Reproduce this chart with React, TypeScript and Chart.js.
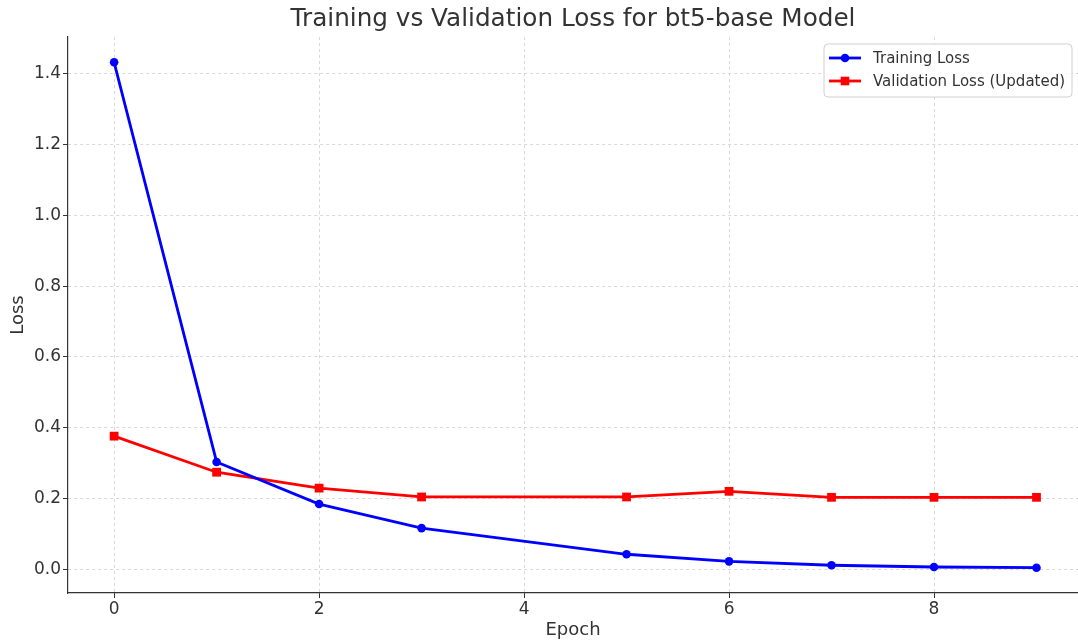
import React, { useEffect, useRef } from "react";
import { Chart, registerables } from "chart.js";

Chart.register(...registerables);

const epochs = [0, 1, 2, 3, 5, 6, 7, 8, 9];
const trainingLoss = [1.433, 0.303, 0.184, 0.116, 0.042, 0.022, 0.011, 0.006, 0.004];
const validationLoss = [0.376, 0.274, 0.229, 0.204, 0.204, 0.22, 0.203, 0.203, 0.203];
const xTickValues = [0, 2, 4, 6, 8];
const yTickValues = [0.0, 0.2, 0.4, 0.6, 0.8, 1.0, 1.2, 1.4];
const titleText = "Training vs Validation Loss for bt5-base Model";
const seriesLabels = ["Training Loss", "Validation Loss (Updated)"];

const FONT = "'DejaVu Sans', sans-serif";
const TEXT = "#333333";

const titlePlugin = {
  id: "customTitle",
  afterDraw(chart: any) {
    const { ctx, chartArea } = chart;
    ctx.save();
    ctx.font = `24.7px ${FONT}`;
    ctx.fillStyle = TEXT;
    ctx.textAlign = "center";
    ctx.textBaseline = "middle";
    ctx.fillText(titleText, (chartArea.left + chartArea.right) / 2, 20);
    ctx.restore();
  },
};

const legendPlugin = {
  id: "customLegend",
  afterDraw(chart: any) {
    const { ctx } = chart;
    const bx = 824, by = 44, bw = 248, bh = 53, r = 4;
    ctx.save();
    ctx.beginPath();
    ctx.moveTo(bx + r, by);
    ctx.lineTo(bx + bw - r, by);
    ctx.quadraticCurveTo(bx + bw, by, bx + bw, by + r);
    ctx.lineTo(bx + bw, by + bh - r);
    ctx.quadraticCurveTo(bx + bw, by + bh, bx + bw - r, by + bh);
    ctx.lineTo(bx + r, by + bh);
    ctx.quadraticCurveTo(bx, by + bh, bx, by + bh - r);
    ctx.lineTo(bx, by + r);
    ctx.quadraticCurveTo(bx, by, bx + r, by);
    ctx.closePath();
    ctx.fillStyle = "rgba(255,255,255,0.85)";
    ctx.fill();
    ctx.strokeStyle = "#d0d0d0";
    ctx.lineWidth = 1;
    ctx.stroke();
    chart.data.datasets.forEach((ds: any, i: number) => {
      const y = 58 + i * 23;
      ctx.strokeStyle = ds.borderColor;
      ctx.lineWidth = 2.8;
      ctx.beginPath();
      ctx.moveTo(829, y);
      ctx.lineTo(861, y);
      ctx.stroke();
      ctx.fillStyle = ds.borderColor;
      if (ds.pointStyle === "rect") {
        ctx.fillRect(845 - 4.3, y - 4.3, 8.6, 8.6);
      } else {
        ctx.beginPath();
        ctx.arc(845, y, 4.3, 0, Math.PI * 2);
        ctx.fill();
      }
      ctx.fillStyle = TEXT;
      ctx.font = `15px ${FONT}`;
      ctx.textAlign = "left";
      ctx.textBaseline = "middle";
      ctx.fillText(ds.label, 873, y + 1);
    });
    ctx.restore();
  },
};

const gridOpts = {
  color: "#cfcfcf",
  lineWidth: 0.8,
  tickColor: "#333333",
  tickLength: 5,
  tickWidth: 1,
  tickBorderDash: [],
};
const borderOpts = { display: true, color: "#333333", width: 1.2, dash: [3, 3] };

export default function App() {
  const ref = useRef<HTMLCanvasElement>(null);
  useEffect(() => {
    if (!ref.current) return;
    const chart = new Chart(ref.current, {
      type: "line",
      data: {
        datasets: [
          {
            label: seriesLabels[0],
            data: epochs.map((e, i) => ({ x: e, y: trainingLoss[i] })),
            borderColor: "#0000ff",
            backgroundColor: "#0000ff",
            borderWidth: 2.8,
            pointStyle: "circle",
            pointRadius: 4.3,
            pointBorderWidth: 0,
            tension: 0,
          },
          {
            label: seriesLabels[1],
            data: epochs.map((e, i) => ({ x: e, y: validationLoss[i] })),
            borderColor: "#ff0000",
            backgroundColor: "#ff0000",
            borderWidth: 2.8,
            pointStyle: "rect",
            pointRadius: 6.2,
            pointBorderWidth: 0,
            tension: 0,
          },
        ],
      },
      options: {
        responsive: false,
        animation: false,
        layout: { autoPadding: false, padding: { top: 37, right: 0, left: 0, bottom: 0 } },
        plugins: { legend: { display: false }, title: { display: false }, tooltip: { enabled: false } },
        scales: {
          x: {
            type: "linear",
            min: -0.45,
            max: 9.405,
            afterBuildTicks: (s: any) => {
              s.ticks = xTickValues.map((v) => ({ value: v }));
            },
            afterFit: (s: any) => {
              s.height = 48;
              s.paddingLeft = 0;
              s.paddingRight = 0;
            },
            ticks: {
              font: { family: FONT, size: 17 },
              color: TEXT,
              padding: 1,
              maxRotation: 0,
              callback: (v: any) => String(v),
            },
            grid: gridOpts,
            border: borderOpts,
            title: {
              display: true,
              text: "Epoch",
              font: { family: FONT, size: 18 },
              color: TEXT,
              padding: { top: 0, bottom: 0 },
            },
          },
          y: {
            type: "linear",
            min: -0.0675,
            max: 1.5045,
            afterBuildTicks: (s: any) => {
              s.ticks = yTickValues.map((v) => ({ value: v }));
            },
            afterFit: (s: any) => {
              s.width = 68;
              s.paddingTop = 0;
              s.paddingBottom = 0;
            },
            ticks: {
              font: { family: FONT, size: 17 },
              color: TEXT,
              padding: 2,
              callback: (v: any) => Number(v).toFixed(1),
            },
            grid: gridOpts,
            border: borderOpts,
            title: {
              display: true,
              text: "Loss",
              font: { family: FONT, size: 18 },
              color: TEXT,
              padding: { top: 8, bottom: 0 },
            },
          },
        },
      } as any,
      plugins: [titlePlugin, legendPlugin],
    });
    return () => chart.destroy();
  }, []);
  return (
    <div style={{ position: "fixed", left: 0, top: 0, width: 1078, height: 641, background: "#fff" }}>
      <canvas ref={ref} width={1078} height={641} style={{ display: "block" }} />
    </div>
  );
}
